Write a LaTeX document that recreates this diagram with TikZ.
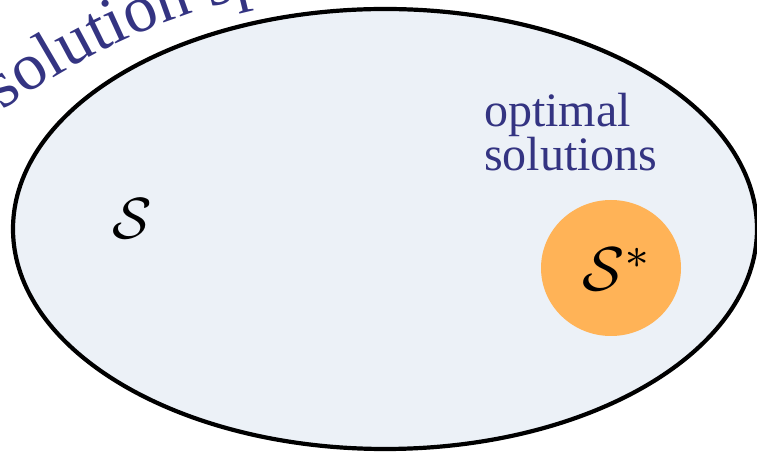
\documentclass[tikz,border=0pt]{standalone}
\usepackage{graphicx}
\usepackage{fontspec}
\setmainfont{Liberation Serif}
\usetikzlibrary{decorations.text}
\definecolor{setfill}{HTML}{ECF1F7}
\definecolor{optfill}{HTML}{FFB357}
\definecolor{labelblue}{HTML}{343482}
\tikzset{
  setshape/.style={draw=black, line width=4.2pt, fill=setfill},
  optshape/.style={fill=optfill, draw=none},
  bluelabel/.style={text=labelblue, align=left, inner sep=0pt, font=\fontsize{48}{39}\selectfont},
}
\begin{document}
\begin{tikzpicture}[x=1pt,y=1pt]
\useasboundingbox (0,0) rectangle (757,452);
\path[setshape] (385,223) ellipse [x radius=372, y radius=220];
\path[optshape] (611,184) ellipse [x radius=70, y radius=68];
\node[inner sep=0pt] (S) at (132,233) {\scalebox{5.8}{$\mathcal{S}$}};
\node[inner sep=0pt, anchor=base west] (Sstar) at (582,161) {\scalebox{6.2}{$\mathcal{S}^{*}$}};
\node[bluelabel, anchor=base west] (opt) at (484,281) {optimal\\solutions};
\path[decorate, decoration={text along path, text align=left,
  text={|\fontsize{67}{80}\selectfont\color{labelblue}|solution space}}]
  (3,341) arc[start angle=126, end angle=90, radius=700];
\end{tikzpicture}
\end{document}
